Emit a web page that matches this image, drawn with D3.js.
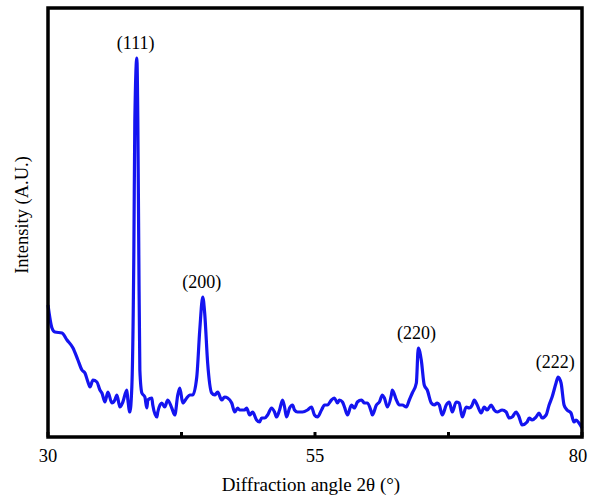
<!DOCTYPE html>
<html>
<head>
<meta charset="utf-8">
<script src="https://cdn.jsdelivr.net/npm/d3@7"></script>
<style>
  body { margin: 0; background: #fff; }
  svg { display: block; }
</style>
</head>
<body>
<div id="chart"></div>
<script>
// 2theta (deg) and intensity (arbitrary units)
const twoTheta = [30.00, 30.37, 30.65, 31.31, 31.78, 32.34, 32.80, 33.18, 33.46, 33.74, 33.93, 34.21, 34.58, 34.86, 35.05, 35.33, 35.61, 35.98, 36.26, 36.45, 36.73, 37.01, 37.38, 37.48, 37.66, 37.85, 38.04, 38.13, 38.32, 38.41, 38.50, 38.60, 38.79, 39.07, 39.25, 39.35, 39.72, 39.81, 40.19, 40.28, 40.65, 40.93, 41.21, 41.59, 41.87, 42.15, 42.34, 42.62, 42.99, 43.27, 43.55, 43.93, 44.21, 44.49, 44.67, 44.95, 45.33, 45.61, 45.89, 46.26, 46.54, 46.82, 47.20, 47.48, 47.76, 47.94, 48.41, 48.60, 48.88, 49.16, 49.53, 49.81, 50.00, 50.28, 50.56, 50.93, 51.21, 51.40, 51.68, 51.96, 52.15, 52.34, 52.62, 52.90, 53.08, 53.36, 53.83, 54.30, 54.67, 54.95, 55.23, 55.61, 55.89, 56.17, 56.54, 56.82, 57.10, 57.29, 57.57, 57.76, 58.04, 58.41, 58.69, 58.97, 59.35, 59.63, 59.91, 60.28, 60.37, 60.75, 61.03, 61.31, 61.50, 61.78, 62.15, 62.24, 62.62, 62.90, 63.18, 63.55, 63.83, 64.11, 64.49, 64.67, 64.95, 65.23, 65.51, 65.89, 66.17, 66.45, 66.64, 66.92, 67.29, 67.57, 67.85, 68.22, 68.50, 68.79, 69.16, 69.44, 69.72, 69.91, 70.19, 70.56, 70.84, 71.12, 71.50, 71.78, 72.06, 72.52, 72.90, 73.18, 73.46, 73.83, 74.11, 74.39, 74.86, 75.05, 75.33, 75.70, 75.98, 76.26, 76.64, 76.92, 77.20, 77.57, 77.76, 78.04, 78.32, 78.60, 78.97, 79.25, 79.44, 79.72, 80.00];
const intensity = [132, 109, 105, 104, 97, 89, 77, 67, 64, 55, 50, 57, 55, 47, 44, 35, 45, 34, 37, 42, 30, 35, 47, 37, 25, 50, 187, 317, 379, 317, 187, 67, 44, 40, 29, 37, 39, 32, 20, 25, 34, 30, 37, 29, 22, 42, 49, 34, 39, 42, 42, 60, 107, 140, 124, 74, 44, 42, 45, 37, 40, 39, 34, 25, 29, 27, 27, 29, 22, 25, 17, 15, 19, 19, 22, 29, 25, 20, 27, 37, 30, 20, 29, 32, 27, 25, 25, 27, 30, 22, 20, 27, 32, 32, 37, 39, 34, 37, 35, 30, 22, 32, 29, 35, 37, 34, 34, 25, 22, 32, 35, 42, 39, 30, 42, 47, 37, 32, 32, 30, 37, 44, 54, 89, 77, 52, 47, 34, 32, 34, 32, 22, 32, 35, 25, 35, 34, 20, 30, 29, 32, 37, 32, 24, 30, 27, 32, 27, 25, 27, 25, 19, 20, 25, 20, 12, 15, 19, 17, 20, 24, 19, 22, 32, 40, 54, 60, 54, 32, 27, 24, 15, 17, 14, 9];

const peakLabels = ["(111)", "(200)", "(220)", "(222)"];
const peakPos = [38.3, 44.5, 64.6, 77.6];
const peakTop = [379, 140, 89, 60];

const xTicks = [30, 42.5, 55, 67.5, 80];
const xTickLabels = [30, 55, 80];

const width = 589, height = 498;
const margin = { top: 8, right: 7, bottom: 61, left: 48 };

const svg = d3.select("#chart")
  .append("svg")
  .attr("width", width)
  .attr("height", height);

const x = d3.scaleLinear()
  .domain([30, 80])
  .range([margin.left, width - margin.right]);

const y = d3.scaleLinear()
  .domain([0, 429])
  .range([height - margin.bottom, margin.top]);

const data = twoTheta.map((t, i) => ({ t: t, v: intensity[i] }));

const font = "'Liberation Serif', 'Times New Roman', serif";

// bottom ticks point inwards
svg.append("g")
  .selectAll("line")
  .data(xTicks)
  .join("line")
  .attr("x1", d => x(d))
  .attr("x2", d => x(d))
  .attr("y1", y(0))
  .attr("y2", y(0) - 5)
  .attr("stroke", "#000")
  .attr("stroke-width", 3);

// last label sits against the right edge, keep it inside the page
svg.append("g")
  .selectAll("text")
  .data(xTickLabels)
  .join("text")
  .attr("x", d => Math.min(x(d), width - 11))
  .attr("y", 462)
  .attr("text-anchor", "middle")
  .attr("font-family", font)
  .attr("font-size", "18.5px")
  .text(d => d);

const line = d3.line()
  .x(d => x(d.t))
  .y(d => y(d.v))
  .curve(d3.curveMonotoneX);

svg.append("path")
  .datum(data)
  .attr("fill", "none")
  .attr("stroke", "#1414f0")
  .attr("stroke-width", 3.2)
  .attr("stroke-linejoin", "round")
  .attr("d", line);

// frame
svg.append("rect")
  .attr("x", margin.left)
  .attr("y", margin.top)
  .attr("width", width - margin.left - margin.right)
  .attr("height", height - margin.top - margin.bottom)
  .attr("fill", "none")
  .attr("stroke", "#000")
  .attr("stroke-width", 3.5);

svg.append("g")
  .selectAll("text")
  .data(peakLabels)
  .join("text")
  .attr("x", (d, i) => x(peakPos[i]) - 1)
  .attr("y", (d, i) => y(peakTop[i]) - 9)
  .attr("text-anchor", "middle")
  .attr("font-family", font)
  .attr("font-size", "18px")
  .text(d => d);

svg.append("text")
  .attr("x", x(55) - 4)
  .attr("y", 491)
  .attr("text-anchor", "middle")
  .attr("font-family", font)
  .attr("font-size", "19px")
  .text("Diffraction angle 2θ (°)");

svg.append("text")
  .attr("transform", "translate(28, 215) rotate(-90)")
  .attr("text-anchor", "middle")
  .attr("font-family", font)
  .attr("font-size", "18.5px")
  .text("Intensity (A.U.)");
</script>
</body>
</html>
